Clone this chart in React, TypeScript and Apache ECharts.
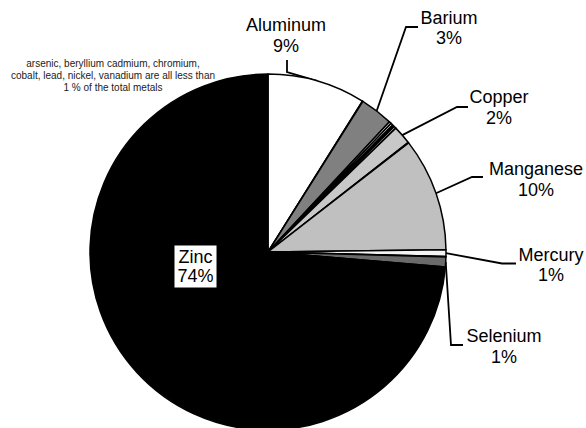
import React, { useEffect, useRef } from "react";
import * as echarts from "echarts";

const FONT = "Arial, 'Liberation Sans', Helvetica, sans-serif";

// Metals in the order they appear clockwise from 12 o'clock
const metals = [
  "Aluminum", "Arsenic", "Barium", "Beryllium", "Cadmium", "Chromium", "Cobalt",
  "Copper", "Lead", "Manganese", "Mercury", "Nickel", "Selenium", "Vanadium", "Zinc",
];
// Share of total metals (%)
const shares = [8.9, 0.05, 3.0, 0.2, 0.2, 0.2, 0.2, 1.7, 0.05, 10.3, 0.6, 0.05, 0.9, 0.05, 73.6];
// Metals that carry a label
const labelled = ["Aluminum", "Barium", "Copper", "Manganese", "Mercury", "Selenium", "Zinc"];

const note =
  "arsenic, beryllium cadmium, chromium,\ncobalt, lead, nickel, vanadium are all less than\n1 % of the total metals";

const fills: Record<string, string> = {
  Aluminum: "#ffffff",
  Arsenic: "#000000",
  Barium: "#808080",
  Beryllium: "#c0c0c0",
  Cadmium: "#ffffff",
  Chromium: "#000000",
  Cobalt: "#c0c0c0",
  Copper: "#c8c8c8",
  Lead: "#000000",
  Manganese: "#c0c0c0",
  Mercury: "#f4f4f4",
  Nickel: "#000000",
  Selenium: "#6a6a6a",
  Vanadium: "#000000",
  Zinc: "#000000",
};

// Label placement (layout only): centre of the label block and leader elbow/end
const labelPlace: Record<string, { x: number; y: number; line?: number[][] }> = {
  Aluminum: { x: 286, y: 35.7, line: [[287, 72], [287, 60]] },
  Barium: { x: 449, y: 27.8, line: [[406, 27], [418, 27]] },
  Copper: { x: 499, y: 107.3, line: [[457, 107], [468, 107]] },
  Manganese: { x: 536, y: 179.5, line: [[472, 177], [483, 177]] },
  Mercury: { x: 551, y: 265, line: [[502, 263.5], [516, 263.5]] },
  Selenium: { x: 504, y: 346.3, line: [[451, 345], [463, 345]] },
  Zinc: { x: 195.5, y: 266.5 },
};

export default function App() {
  const ref = useRef<HTMLDivElement>(null);

  useEffect(() => {
    if (!ref.current) return;
    const chart = echarts.init(ref.current, null, { renderer: "svg" });
    const total = shares.reduce((a, b) => a + b, 0);

    const data = metals.map((name, i) => {
      const show = labelled.includes(name);
      const inside = name === "Zinc";
      return {
        name,
        value: shares[i],
        itemStyle: { color: fills[name] },
        label: inside
          ? {
              show,
              position: "inside",
              backgroundColor: "#ffffff",
              padding: [2, 3, 2, 3],
              lineHeight: 19,
            }
          : { show, position: "outside" },
        labelLine: { show: show && !inside },
      };
    });

    chart.setOption({
      animation: false,
      backgroundColor: "#ffffff",
      graphic: [
        {
          type: "text",
          x: 113,
          y: 58,
          silent: true,
          style: {
            text: note,
            fontSize: 10,
            lineHeight: 11.8,
            fontFamily: FONT,
            fill: "#222222",
            align: "center",
            verticalAlign: "top",
          },
        },
      ],
      series: [
        {
          type: "pie",
          center: [268, 252],
          radius: 178,
          startAngle: 90,
          clockwise: true,
          silent: true,
          avoidLabelOverlap: false,
          minAngle: 0,
          itemStyle: { borderColor: "#000000", borderWidth: 1.5 },
          label: {
            color: "#000000",
            fontSize: 18,
            fontFamily: FONT,
            lineHeight: 20.5,
            align: "center",
            formatter: (p: any) => `${p.name}\n${Math.round((p.value / total) * 100)}%`,
          },
          labelLine: {
            show: true,
            length: 10,
            length2: 10,
            lineStyle: { color: "#000000", width: 1.8 },
          },
          labelLayout: (params: any) => {
            const name = metals[params.dataIndex];
            const pl = labelPlace[name];
            if (!pl) return {};
            const out: any = { x: pl.x, y: pl.y, align: "center", verticalAlign: "middle" };
            if (pl.line && params.labelLinePoints) {
              out.labelLinePoints = [params.labelLinePoints[0], pl.line[0], pl.line[1]];
            }
            return out;
          },
          data,
        },
      ],
    });

    return () => chart.dispose();
  }, []);

  return (
    <div
      ref={ref}
      style={{ position: "fixed", left: 0, top: 0, width: 586, height: 428 }}
    />
  );
}
